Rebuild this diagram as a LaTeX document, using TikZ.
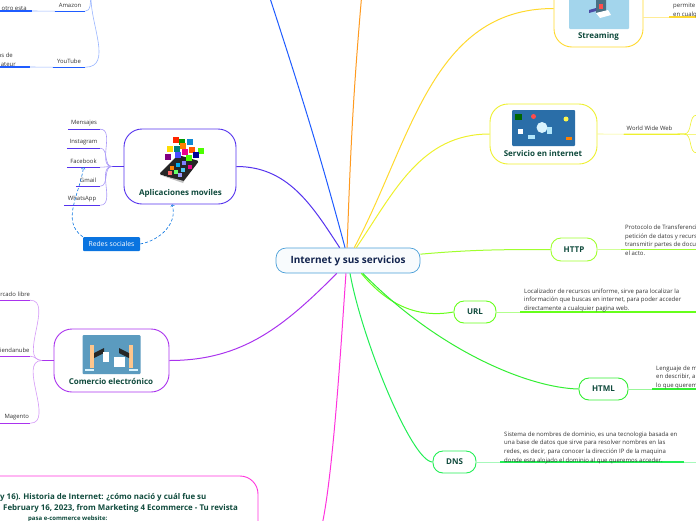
\documentclass[tikz,border=0pt]{standalone}
\usepackage{fontspec}
\setmainfont{Open Sans}
\definecolor{centerline}{HTML}{4A9FD8}
\definecolor{centertext}{HTML}{12244E}
\definecolor{titletext}{HTML}{0F4A3C}
\definecolor{bodytext}{HTML}{333333}
\definecolor{appscolor}{HTML}{5533EE}
\definecolor{bluecolor}{HTML}{1F5CFF}
\definecolor{orangecolor}{HTML}{FF9A1F}
\definecolor{streamcolor}{HTML}{FFD92E}
\definecolor{servicecolor}{HTML}{EEF02E}
\definecolor{httpcolor}{HTML}{A0FF2E}
\definecolor{urlcolor}{HTML}{66FF1A}
\definecolor{htmlcolor}{HTML}{33EE33}
\definecolor{dnscolor}{HTML}{22EE55}
\definecolor{shopcolor}{HTML}{AA33EE}
\definecolor{refcolor}{HTML}{FF33DD}
\definecolor{redescolor}{HTML}{0A74E0}
\definecolor{shopimgcolor}{HTML}{5B9BBF}
\definecolor{streamimgcolor}{HTML}{A3D5EC}
\definecolor{serviceimgcolor}{HTML}{2A6EA8}
\tikzset{
    mainbox/.style={draw, rounded corners=18pt, line width=0.9pt, fill=white, inner sep=0pt},
    smallbox/.style={draw, rounded corners=10pt, line width=0.9pt, fill=white, inner sep=0pt, text=titletext, font=\fontsize{8}{9}\selectfont\bfseries},
    boxtitle/.style={inner sep=0pt, text=titletext, font=\fontsize{8}{9}\selectfont\bfseries},
    leaf/.style={inner sep=0pt, minimum height=12pt, text=bodytext, font=\fontsize{5.9}{7}\selectfont},
    note/.style={inner sep=0pt, anchor=north west, align=left, text=bodytext, font=\fontsize{6}{8.6}\selectfont},
    mainline/.style={line width=1pt},
    thick line/.style={line width=1.3pt},
    soft line/.style={line width=0.6pt},
    dashline/.style={densely dashed, line width=0.6pt, color=redescolor, ->}
}
\begin{document}
\begin{tikzpicture}[x=1pt, y=-1pt]
    \useasboundingbox (0, 0) rectangle (696, 520);

    % main branches go first, the boxes sit on top
    \coordinate (blueup) at (268, -8);
    \coordinate (orangeup) at (362, -8);
    \coordinate (refend) at (302, 526);

    \node[draw=centerline, fill=centerline!4, rounded corners=10pt, line width=0.7pt, minimum width=144pt, minimum height=25pt, inner sep=0pt, text=centertext, font=\fontsize{10}{11}\selectfont\bfseries] (center) at (348, 260.5) {Internet y sus servicios};

    \node[mainbox, draw=appscolor, minimum width=112pt, minimum height=75pt] (apps) at (180, 166.5) {};
    \node[mainbox, draw=shopcolor, minimum width=115pt, minimum height=63pt] (shop) at (111.5, 360.5) {};
    \node[mainbox, draw=streamcolor, minimum width=89pt, minimum height=77pt] (stream) at (598.5, 8.5) {};
    \node[mainbox, draw=servicecolor, minimum width=107pt, minimum height=60pt] (service) at (543.5, 134) {};
    \node[smallbox, draw=httpcolor, minimum width=46pt, minimum height=23pt] (http) at (574, 249.5) {HTTP};
    \node[smallbox, draw=urlcolor, minimum width=42pt, minimum height=22pt] (url) at (475, 312) {URL};
    \node[smallbox, draw=htmlcolor, minimum width=49pt, minimum height=22pt] (html) at (603.5, 389) {HTML};
    \node[smallbox, draw=dnscolor, minimum width=43pt, minimum height=22pt] (dns) at (454.5, 462) {DNS};
    \node[draw=refcolor, rounded corners=18pt, line width=0.9pt, minimum width=300pt, minimum height=90pt, inner sep=0pt] (ref) at (108, 521) {};

    \draw[appscolor, mainline] (apps.east) to[out=0, in=123] (center.123);
    \draw[bluecolor, mainline] (blueup) to[out=-72, in=105] (center.103);
    \draw[orangecolor, mainline] (orangeup) to[out=265, in=88] (center.94);
    \draw[streamcolor, mainline] (stream.west) to[out=180, in=62] (center.64);
    \draw[servicecolor, mainline] (service.west) to[out=180, in=56] (center.57);
    \draw[httpcolor, mainline] (http.west) to[out=180, in=5] (center.5);
    \draw[urlcolor, mainline] (url.west) to[out=190, in=-50] (center.-44);
    \draw[htmlcolor, mainline] (html.west) .. controls (530, 388) and (440, 352) .. (center.-41);
    \draw[dnscolor, mainline] (dns.west) .. controls (412, 462) and (362, 340) .. (center.-81);
    \draw[refcolor, mainline] (refend) to[out=-77, in=-94] (center.-99);
    \draw[shopcolor, mainline] (shop.east) to[out=0, in=-135] (center.-131);

    % leaves of the blue branch
    \coordinate (bluefork) at (91, -4);
    \node[leaf, minimum width=30pt] (amazon) at (70, 5) {Amazon};
    \node[leaf, minimum width=32pt] (youtube) at (69, 61) {YouTube};
    \node[note, anchor=south west] (amazonnote) at (1.5, 10.5) {otro esta};
    \node[note, anchor=south east, align=right] (youtubenote) at (16, 66.5) {as de\hspace*{3pt}\\ateur};
    \draw[bluecolor, thick line] (amazon.south west) -- (amazon.south east);
    \draw[bluecolor, thick line] (youtube.south west) -- (youtube.south east);
    \draw[bluecolor!45, soft line] (amazon.south east) to[out=0, in=-100] (bluefork);
    \draw[bluecolor!45, soft line] (youtube.south east) to[out=0, in=-92] (bluefork);
    \coordinate (amazonend) at (-2, 11);
    \coordinate (amazonmid) at (32, 11);
    \coordinate (youtubeend) at (-2, 67);
    \coordinate (youtubemid) at (30, 67);
    \draw[bluecolor, thick line] (amazonend) -- (amazonmid);
    \draw[bluecolor!45, soft line] (amazonmid) -- (amazon.south west);
    \draw[bluecolor, thick line] (youtubeend) -- (youtubemid);
    \draw[bluecolor!45, soft line] (youtubemid) -- (youtube.south west);

    % apps
    \coordinate (appsfork) at (112, 166.5);
    \draw[appscolor, thick line] (apps.west) -- (appsfork);
    \node[leaf, minimum width=32pt] (mensajes) at (84, 123) {Mensajes};
    \node[leaf, minimum width=33pt] (instagram) at (83.5, 142) {Instagram};
    \node[leaf, minimum width=33pt] (facebook) at (83.5, 161) {Facebook};
    \node[leaf, minimum width=24pt] (gmail) at (88, 180) {Gmail};
    \node[leaf, minimum width=36pt] (whatsapp) at (82, 199) {WhatsApp};
    \foreach \leafname in {mensajes, instagram, facebook, gmail, whatsapp} {
        \draw[appscolor, thick line] (\leafname.south west) -- (\leafname.south east);
        \draw[appscolor!50, soft line] (appsfork) to[out=180, in=0] (\leafname.south east);
    }
    \node[fill=redescolor, rounded corners=1pt, minimum width=57pt, minimum height=14pt, inner sep=0pt, text=white, font=\fontsize{6.8}{8}\selectfont] (redes) at (111.5, 244) {Redes sociales};
    \draw[dashline] (redes.east) to[out=10, in=-72] (apps.south -| 172, 205);
    \draw[dashline] (redes.north west) to[out=145, in=-98] (facebook.south);

    % apps picture
    \fill[black!85, rounded corners=1.5pt] (159, 174) -- (178, 155) -- (199, 161) -- (183, 182) -- cycle;
    \fill[black!25] (160, 175) -- (183, 183) -- (184, 181) -- cycle;
    \foreach \x/\y/\tone in {176/140/red!70!orange, 182/142/green!60!black, 190/142/cyan!70!blue, 170/149/yellow!80!orange, 177/149/teal, 183/146/orange, 192/150/orange!70!red, 201/151/green!70!yellow, 168/157/violet, 178/155/blue!70, 185/152/magenta, 196/155/blue!60!black, 189/158/green!70!yellow} {
        \fill[\tone] (\x-2.6, \y-2.6) rectangle (\x+2.6, \y+2.6);
    }
    \foreach \x/\y/\tone in {172/168/orange, 178/165/cyan, 184/163/blue!50, 170/173/red!60, 176/172/green!60, 183/170/cyan!70, 190/167/magenta, 180/175/blue!40} {
        \fill[\tone] (\x-1.6, \y-1.6) rectangle (\x+1.6, \y+1.6);
    }
    \node[boxtitle] (appstitle) at (180.5, 193) {Aplicaciones moviles};

    % shop
    \coordinate (shopfork) at (42, 360.5);
    \draw[shopcolor, thick line] (shop.west) -- (shopfork);
    \node[leaf, minimum width=40pt, text width=40pt, align=right] (mercado) at (10, 294) {rcado libre};
    \node[leaf, minimum width=40pt, text width=39pt, align=right] (tienda) at (10, 350) {iendanube};
    \node[leaf, minimum width=40pt, text width=38pt, align=right] (magento) at (10, 417) {Magento};
    \foreach \leafname in {mercado, tienda, magento} {
        \draw[shopcolor, thick line] (\leafname.south west) -- (\leafname.south east);
        \draw[shopcolor!50, soft line] (shopfork) to[out=180, in=0] (\leafname.south east);
    }
    \node[fill=shopimgcolor, rounded corners=1pt, minimum width=58pt, minimum height=39pt, inner sep=0pt] (shopimg) at (111.5, 354.5) {};
    \fill[orange!45] (90, 345) rectangle (94, 368);
    \fill[orange!45] (129, 345) rectangle (133, 368);
    \fill[white!85!cyan] (85, 369) rectangle (94, 370.5);
    \fill[white!85!cyan] (129, 369) rectangle (138, 370.5);
    \fill[black!85] (94, 353) -- (104, 348) -- (104, 353) -- (94, 358) -- cycle;
    \fill[black!85] (129, 353) -- (119, 348) -- (119, 353) -- (129, 358) -- cycle;
    \fill[white] (103, 352) rectangle (109, 362);
    \fill[white] (114, 357) rectangle (125, 367);
    \node[boxtitle] (shoptitle) at (111, 381) {Comercio electrónico};

    % stream
    \node[fill=streamimgcolor, rounded corners=1pt, minimum width=60pt, minimum height=50pt, inner sep=0pt] (streamimg) at (599, 4) {};
    \fill[black!25!cyan!60!black] (596, 0) -- (606, -2) -- (606, 11) -- (596, 13) -- cycle;
    \fill[red!70] (599, 4) rectangle (603, 9);
    \fill[white] (596, 13) -- (608, 10) -- (611, 15) -- (600, 18) -- cycle;
    \fill[blue!50!black!70] (589, 10) -- (596, 8) -- (596, 11) -- (589, 13) -- cycle;
    \node[boxtitle] (streamtitle) at (598.5, 36) {Streaming};
    \coordinate (streammid) at (669, 17);
    \coordinate (streamend) at (700, 17);
    \draw[streamcolor!50, soft line] (stream.east |- streammid) -- (streammid);
    \draw[streamcolor, thick line] (streammid) -- (streamend);
    \node[note] (streamnote) at (673, 3) {permite\\en cualq};

    % service
    \node[fill=serviceimgcolor, rounded corners=1pt, minimum width=63pt, minimum height=36pt, inner sep=0pt] (serviceimg) at (543.5, 128) {};
    \node[circle, fill=white!85!cyan, minimum size=11pt, inner sep=0pt] (globe) at (542, 127.5) {};
    \fill[white!70!cyan] (547, 127) rectangle (552, 134);
    \fill[red!70] (533.5, 116.5) circle (2.5pt);
    \fill[green!40!black] (515, 114) rectangle (522, 120);
    \fill[white] (518, 129) rectangle (523, 134);
    \fill[yellow!70] (566, 119) circle (2.5pt);
    \fill[orange] (566, 137) rectangle (572, 140);
    \fill[cyan!30] (528, 135) rectangle (535, 139);
    \node[boxtitle] (servicetitle) at (543, 153) {Servicio en internet};
    \node[leaf, minimum width=51pt] (www) at (649.5, 128) {World Wide Web};
    \coordinate (servicefork) at (684, 134);
    \coordinate (wwwup) at (697, 115);
    \coordinate (wwwdown) at (697, 153);
    \coordinate (wwwend) at (700, 134);
    \draw[servicecolor!60, soft line] (service.east) -- (www.south west);
    \draw[servicecolor, thick line] (www.south west) -- (www.south east) -- (servicefork);
    \draw[servicecolor!60, soft line] (servicefork) -- (wwwend);
    \draw[servicecolor, soft line] (servicefork) to[out=0, in=180] (wwwup);
    \draw[servicecolor, soft line] (servicefork) to[out=0, in=180] (wwwdown);

    % http
    \coordinate (httpmid) at (621, 249.5);
    \coordinate (httpend) at (700, 249.5);
    \draw[httpcolor!50, soft line] (http.east) -- (httpmid);
    \draw[httpcolor, thick line] (httpmid) -- (httpend);
    \node[note] (httpnote) at (625, 225) {Protocolo de Transferenci\\petición de datos y recurs\\transmitir partes de docu\\el acto.};

    % url
    \coordinate (urlmid) at (520, 312);
    \coordinate (urlend) at (700, 312);
    \draw[urlcolor!50, soft line] (url.east) -- (urlmid);
    \draw[urlcolor, thick line] (urlmid) -- (urlend);
    \node[note] (urlnote) at (524, 288.5) {Localizador de recursos uniforme, sirve para localizar la\\información que buscas en internet, para poder acceder\\directamente a cualquier pagina web.};

    % html
    \coordinate (htmlmid) at (652, 389);
    \coordinate (htmlend) at (700, 389);
    \draw[htmlcolor!50, soft line] (html.east) -- (htmlmid);
    \draw[htmlcolor, thick line] (htmlmid) -- (htmlend);
    \node[note] (htmlnote) at (656, 365.5) {Lenguaje de m\\en describir, a\\lo que querem};

    % dns
    \coordinate (dnsmid) at (500, 462);
    \coordinate (dnsstop) at (684, 462);
    \coordinate (dnsend) at (700, 462);
    \draw[dnscolor!40, soft line] (dns.east) -- (dnsmid);
    \draw[dnscolor, thick line] (dnsmid) -- (dnsstop);
    \draw[dnscolor!40, soft line] (dnsstop) -- (dnsend);
    \node[note] (dnsnote) at (504, 431.5) {Sistema de nombres de dominio, es una tecnologia basada en\\una base de datos que sirve para resolver nombres en las\\redes, es decir, para conocer la dirección IP de la maquina\\donde esta alojado el dominio al que queremos acceder.};

    % reference box text
    \node[inner sep=0pt, anchor=north west, align=left, text=titletext, font=\fontsize{7.9}{10.6}\selectfont\bfseries] (reftext) at (0, 493.5) {y 16). Historia de Internet: ¿cómo nació y cuál fue su\\\hspace*{3pt}February 16, 2023, from Marketing 4 Ecommerce - Tu revista\\\hspace*{28pt}{\fontsize{6}{10.6}\selectfont pasa e-commerce website:}};
\end{tikzpicture}
\end{document}
